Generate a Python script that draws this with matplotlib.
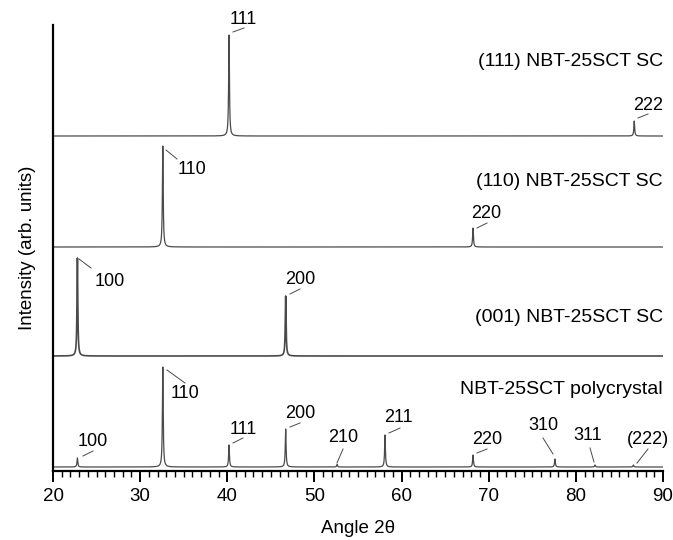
import matplotlib.pyplot as plt
import numpy as np
from matplotlib.ticker import MultipleLocator

plt.rcParams['font.family'] = ['Liberation Sans', 'DejaVu Sans']

# Peak positions (2theta) and heights (arb.) for each pattern, bottom to top
poly_pos = [22.8, 32.6, 40.2, 46.7, 52.6, 58.1, 68.2, 77.6, 82.2, 86.6]
poly_hgt = [9, 100, 22, 38, 2.5, 32, 12, 8, 2, 2]
poly_hkl = ["100", "110", "111", "200", "210", "211", "220", "310", "311", "(222)"]

sc001_pos = [22.8, 46.7]
sc001_hgt = [98, 60]
sc001_hkl = ["100", "200"]

sc110_pos = [32.6, 68.2]
sc110_hgt = [101, 19]
sc110_hkl = ["110", "220"]

sc111_pos = [40.2, 86.7]
sc111_hgt = [101, 15]
sc111_hkl = ["111", "222"]

names = ["NBT-25SCT polycrystal", "(001) NBT-25SCT SC",
         "(110) NBT-25SCT SC", "(111) NBT-25SCT SC"]

# layout (pixel based, y measured up from the x axis line)
offsets = [4, 115, 224, 335]
name_y = [81, 153, 289, 409]
# label text centre (px, py) and leader line (x0, y0, x1, y1) in image pixels
poly_lab = [((93, 442), (83, 456, 93, 451)), ((185, 393), (167, 370, 185, 383)),
            ((243, 429), (233, 443, 243, 438)), ((300, 413), (290, 427, 300, 423)),
            ((343, 438), (337, 463, 343, 449)), ((398, 418), (389, 433, 400, 428)),
            ((487, 440), (477, 453, 487, 449)), ((543, 425), (553, 454, 543, 438)),
            ((588, 435), (594, 462, 590, 448)), ((648, 439), (637, 463, 648, 449))]
sc001_lab = [((110, 281), (79, 259, 91, 268)), ((300, 280), (290, 294, 300, 289))]
sc110_lab = [((192, 170), (166, 150, 177, 159)), ((486, 214), (477, 228, 487, 223))]
sc111_lab = [((243, 19), (233, 32, 244, 28)), ((648, 105), (638, 118, 648, 114))]

W, H = 673, 540
X0, X1, YB, YT = 53, 663, 471, 25
LC = "#4a4a4a"


def px2x(px):
    return 20 + (px - X0) * 70 / (X1 - X0)


def py2y(py):
    return YB - py


def profile(x, pos, hgt, w=0.055):
    y = np.zeros_like(x)
    for p, h in zip(pos, hgt):
        y += h / (1 + ((x - p) / w) ** 2)
    return y


fig = plt.figure(figsize=(W / 100, H / 100), dpi=100)
ax = fig.add_axes([X0 / W, 1 - YB / H, (X1 - X0) / W, (YB - YT) / H])

x = np.linspace(20, 90, 28001)
sets = [(poly_pos, poly_hgt, poly_hkl, poly_lab),
        (sc001_pos, sc001_hgt, sc001_hkl, sc001_lab),
        (sc110_pos, sc110_hgt, sc110_hkl, sc110_lab),
        (sc111_pos, sc111_hgt, sc111_hkl, sc111_lab)]

for i, (pos, hgt, hkl, lab) in enumerate(sets):
    lw = 1.2 if i == 1 else 0.9
    ax.plot(x, offsets[i] + profile(x, pos, hgt), color=LC, lw=lw)
    for t, ((tx, ty), (a, b, c, d)) in zip(hkl, lab):
        ax.plot([px2x(a), px2x(c)], [py2y(b), py2y(d)], color=LC, lw=0.7)
        ax.text(px2x(tx), py2y(ty), t, ha="center", va="center", fontsize=13)
    ax.text(90, name_y[i], names[i], ha="right", va="center", fontsize=14)

ax.set_xlim(20, 90)
ax.set_ylim(0, YB - YT)
ax.spines["top"].set_visible(False)
ax.spines["right"].set_visible(False)
ax.spines["left"].set_linewidth(1.6)
ax.spines["bottom"].set_linewidth(1.6)
ax.set_yticks([])
ax.xaxis.set_major_locator(MultipleLocator(10))
ax.xaxis.set_minor_locator(MultipleLocator(1))
ax.tick_params(axis="x", which="major", direction="out", length=8, width=1.4,
               labelsize=13.5, pad=4)
ax.tick_params(axis="x", which="minor", direction="out", length=4.5, width=1.0)
ax.set_xlabel("Angle 2\u03b8", fontsize=13.5, labelpad=11)
ax.set_ylabel("Intensity (arb. units)", fontsize=13.5, labelpad=12)

fig.savefig("out.png", dpi=100)
